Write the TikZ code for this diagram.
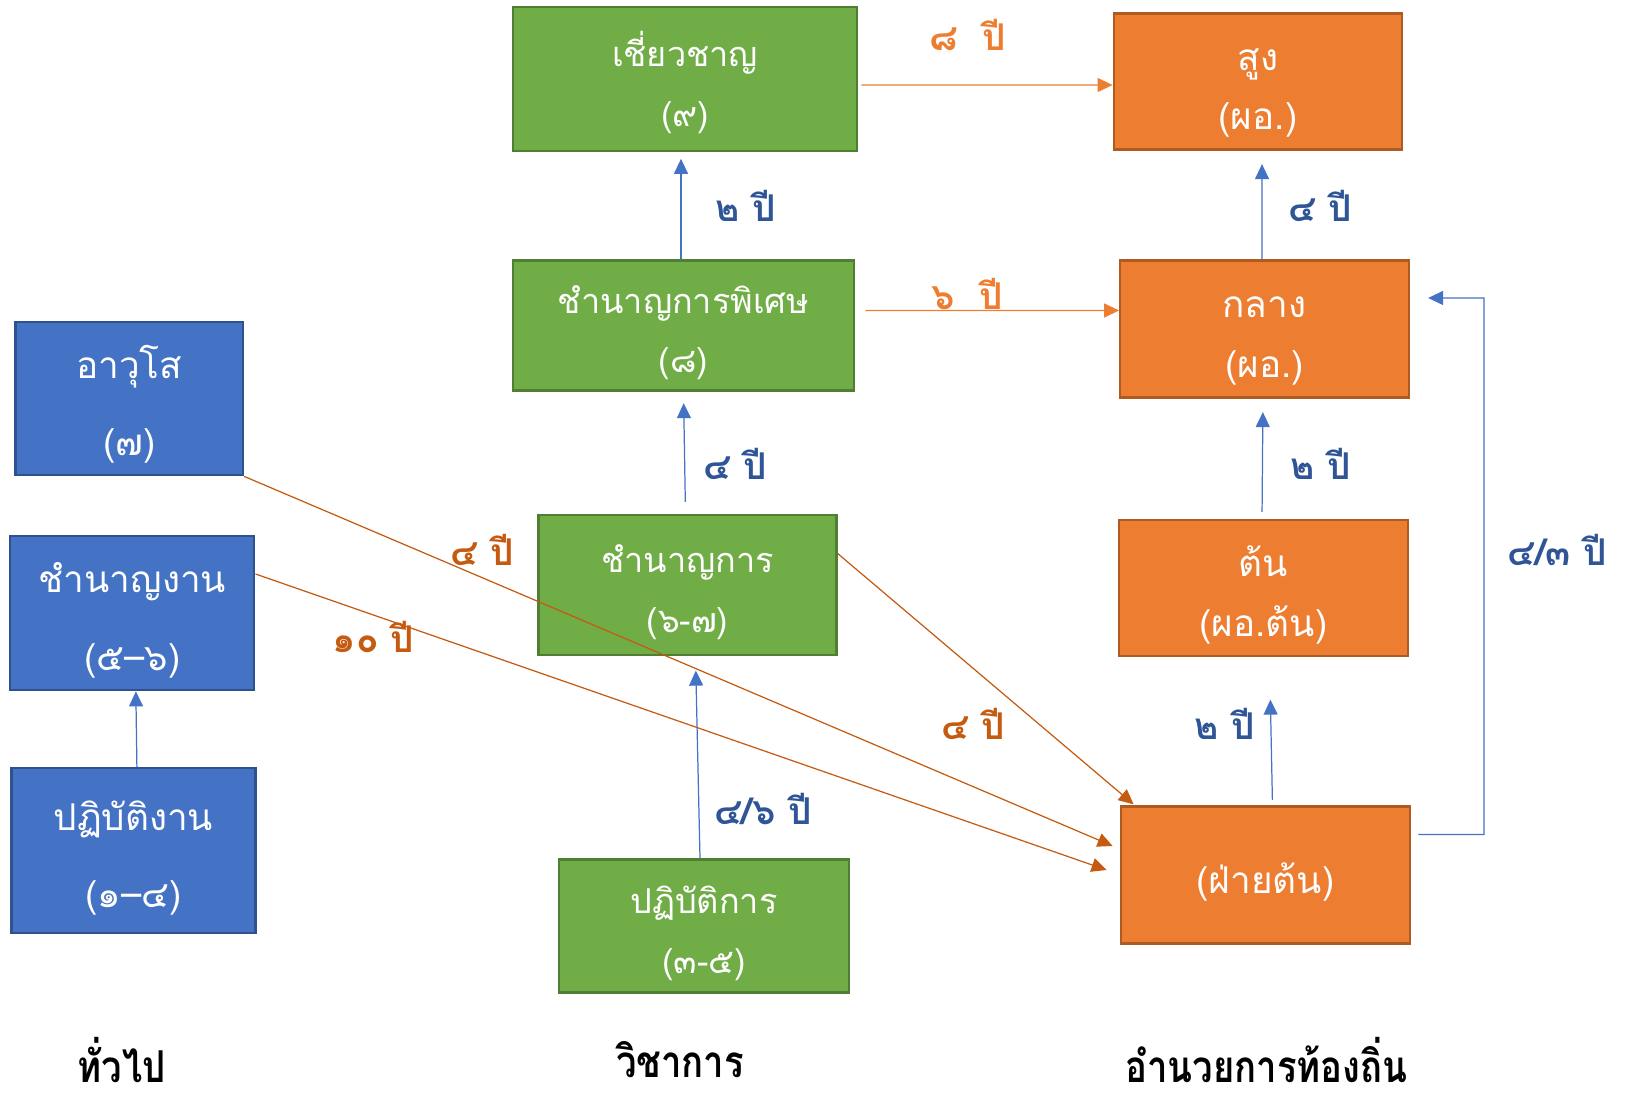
\documentclass[tikz,border=0pt]{standalone}
\usepackage{fontspec}
\newfontfamily\thaifont[Script=Thai]{Loma}
\newfontfamily\thaicond[Script=Thai,FakeStretch=0.83]{Loma}
\usepackage{tikz}
\usetikzlibrary{arrows.meta,positioning}
\usepackage{xcolor}
\definecolor{gsblue}{RGB}{68,114,196}
\definecolor{gsblueline}{RGB}{47,82,143}
\definecolor{gsgreen}{RGB}{112,173,71}
\definecolor{gsgreenline}{RGB}{80,126,50}
\definecolor{gsorange}{RGB}{237,125,49}
\definecolor{gsorangeline}{RGB}{174,90,33}
\definecolor{gsrust}{RGB}{197,90,17}
\definecolor{gsnavy}{RGB}{47,85,151}
\newcommand\greenfont{\thaifont\fontsize{19.5}{34}\selectfont}
\newcommand\boxfont{\thaifont\fontsize{21}{34}\selectfont}
\newcommand\tallboxfont{\thaifont\fontsize{21}{44}\selectfont}
\newcommand\yearfont{\thaifont\bfseries\fontsize{21}{25}\selectfont}
\newcommand\titlefont{\thaicond\bfseries\fontsize{25}{28}\selectfont}
\newcommand\thaistrut{\raisebox{4pt}{\vphantom{ชี่}}}
\tikzstyle{greenbox} = [rectangle, draw=gsgreenline, fill=gsgreen, line width=1.3pt, text=white, align=center, inner sep=0pt, font=\greenfont]
\tikzstyle{orangebox} = [rectangle, draw=gsorangeline, fill=gsorange, line width=1.3pt, text=white, align=center, inner sep=0pt, font=\boxfont]
\tikzstyle{bluebox} = [rectangle, draw=gsblueline, fill=gsblue, line width=1.3pt, text=white, align=center, inner sep=0pt, font=\tallboxfont]
\tikzstyle{bluearrow} = [line width=0.7pt,-{Triangle[length=0.3cm,width=0.28cm]},color=gsblue]
\tikzstyle{orangearrow} = [line width=0.7pt,-{Triangle[length=0.3cm,width=0.28cm]},color=gsorange]
\tikzstyle{rustarrow} = [line width=0.7pt,-{Triangle[length=0.3cm,width=0.28cm]},color=gsrust]

\begin{document}
\begin{tikzpicture}
\useasboundingbox (0,0) rectangle (32.58,21.92);

% General track
\node[bluebox, minimum width=4.55cm, minimum height=3.07cm] (senior) at (2.585,13.95) {\thaistrut อาวุโส\\(๗)};
\node[bluebox, minimum width=4.88cm, minimum height=3.09cm] (skilled) at (2.647,9.66) {\thaistrut ชำนาญงาน\\(๕–๖)};
\node[bluebox, minimum width=4.88cm, minimum height=3.30cm] (worker) at (2.668,4.91) {\thaistrut ปฏิบัติงาน\\(๑–๔)};

% Academic track
\node[greenbox, minimum width=6.89cm, minimum height=2.87cm] (expert) at (13.70,20.34) {\thaistrut เชี่ยวชาญ\\(๙)};
\node[greenbox, minimum width=6.83cm, minimum height=2.60cm] (senpro) at (13.67,15.41) {\thaistrut ชำนาญการพิเศษ\\(๘)};
\node[greenbox, minimum width=5.96cm, minimum height=2.80cm] (pro) at (13.75,10.22) {\thaistrut ชำนาญการ\\(๖-๗)};
\node[greenbox, minimum width=5.81cm, minimum height=2.66cm] (practice) at (14.08,3.40) {\thaistrut ปฏิบัติการ\\(๓-๕)};

% Local administration track
\node[orangebox, minimum width=5.77cm, minimum height=2.72cm] (high) at (25.16,20.29) {\thaistrut สูง\\(ผอ.)};
\node[orangebox, minimum width=5.77cm, minimum height=2.74cm] (mid) at (25.29,15.34) {\thaistrut กลาง\\(ผอ.)};
\node[orangebox, minimum width=5.77cm, minimum height=2.72cm] (low) at (25.27,10.16) {\thaistrut ต้น\\(ผอ.ต้น)};
\node[orangebox, minimum width=5.77cm, minimum height=2.74cm] (local) at (25.31,4.42) {\thaistrut(ฝ่ายต้น)};

% Track titles
\node[font=\titlefont, inner sep=0pt] (general) at (2.43,0.72) {ทั่วไป};
\node[font=\titlefont, inner sep=0pt] (academic) at (13.60,0.72) {วิชาการ};
\node[font=\titlefont, inner sep=0pt] (admin) at (25.33,0.72) {อำนวยการท้องถิ่น};

% Promotion within tracks
\draw[bluearrow] ([xshift=0.07cm]worker.north) -- ([xshift=0.07cm]skilled.south);
\draw[bluearrow, shorten >=0.14cm] ([xshift=-0.05cm]senpro.north) -- ([xshift=-0.08cm]expert.south);
\draw[bluearrow, shorten <=0.24cm, shorten >=0.23cm] ([xshift=-0.04cm]pro.north) -- ([xshift=0.0cm]senpro.south);
\draw[bluearrow, shorten >=0.29cm] ([xshift=-0.08cm]practice.north) -- ([xshift=0.16cm]pro.south);
\draw[bluearrow, shorten >=0.27cm] ([xshift=-0.05cm]mid.north) -- ([xshift=0.08cm]high.south);
\draw[bluearrow, shorten <=0.14cm, shorten >=0.27cm] ([xshift=-0.03cm]low.north) -- ([xshift=-0.03cm]mid.south);
\draw[bluearrow, shorten <=0.11cm, shorten >=0.85cm] ([xshift=0.14cm]local.north) -- ([xshift=0.12cm]low.south);
\coordinate (loopR) at (29.68,15.96);
\draw[bluearrow] ([shift={(0.15,0.81)}]local.east) -| (loopR) -- ([shift={(0.365,0.62)}]mid.east);

% Moves across tracks
\draw[orangearrow] ([shift={(0.06,-0.12)}]expert.east) -- ([yshift=-0.07cm]high.west);
\draw[orangearrow] ([shift={(0.2,0.30)}]senpro.east) -- ([yshift=0.37cm]mid.west);
\draw[rustarrow] (senior.south east) -- ([shift={(-0.15,0.58)}]local.west);
\draw[rustarrow] ([yshift=0.78cm]skilled.east) -- ([shift={(-0.27,0.10)}]local.west);
\draw[rustarrow] ([yshift=0.63cm]pro.east) -- ([shift={(0.27,0.02)}]local.north west);

% Years
\node[font=\yearfont, text=gsnavy] (y2a) at (14.91,17.81) {๒ ปี};
\node[font=\yearfont, text=gsnavy] (y4a) at (14.70,12.64) {๔ ปี};
\node[font=\yearfont, text=gsnavy] (y46) at (15.26,5.73) {๔/๖ ปี};
\node[font=\yearfont, text=gsnavy] (y4b) at (26.41,17.81) {๔ ปี};
\node[font=\yearfont, text=gsnavy] (y2b) at (26.41,12.64) {๒ ปี};
\node[font=\yearfont, text=gsnavy] (y2c) at (24.50,7.45) {๒ ปี};
\node[font=\yearfont, text=gsnavy] (y43) at (31.14,10.92) {๔/๓ ปี};
\node[font=\yearfont, text=gsorange] (y8) at (19.35,21.23) {๘~~ปี};
\node[font=\yearfont, text=gsorange] (y6) at (19.35,16.04) {๖~~ปี};
\node[font=\yearfont, text=gsrust] (y4c) at (9.65,10.92) {๔ ปี};
\node[font=\yearfont, text=gsrust] (y10) at (7.47,9.19) {๑๐ ปี};
\node[font=\yearfont, text=gsrust] (y4d) at (19.47,7.45) {๔ ปี};
\end{tikzpicture}
\end{document}
